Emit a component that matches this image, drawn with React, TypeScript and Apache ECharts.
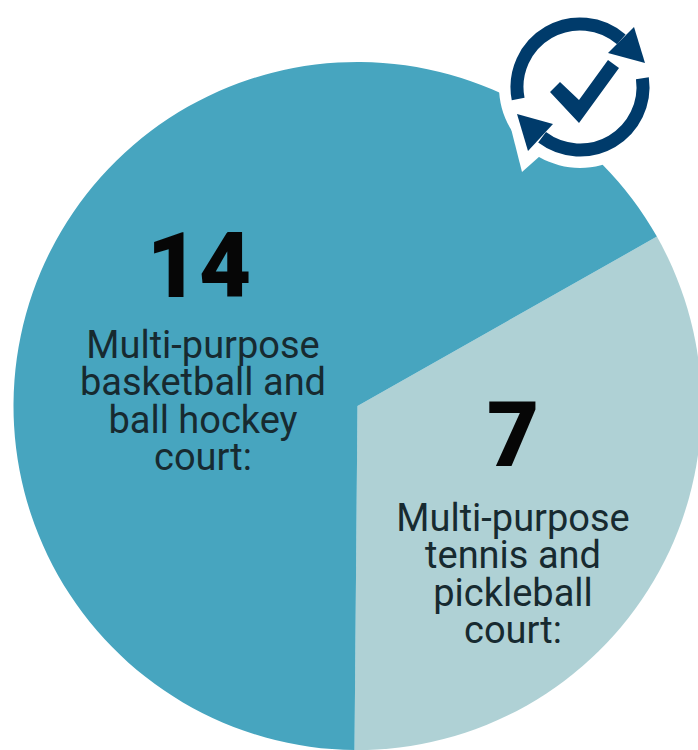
import React, { useEffect, useRef } from "react";
import * as echarts from "echarts";

const categories = [
  "Multi-purpose\ntennis and\npickleball\ncourt:",
  "Multi-purpose\nbasketball and\nball hockey\ncourt:",
];
const values = [7, 14];
const colors = ["#AFD1D5", "#47A5BF"];
const labelAnchors = [
  [513, 371],
  [203, 207],
];
const NAVY = "#003B6B";

export default function App() {
  const ref = useRef<HTMLDivElement>(null);
  useEffect(() => {
    document.body.style.margin = "0";
    const chart = echarts.init(ref.current!, null, { renderer: "svg" });
    const deg = (d: number) => (d * Math.PI) / 180;
    const num = {
      fontFamily: "Roboto",
      fontWeight: 900,
      fontSize: 90,
      color: "#060606",
      align: "center",
    };
    chart.setOption({
      animation: false,
      backgroundColor: "#ffffff",
      series: [
        {
          type: "pie",
          center: [357.5, 406],
          radius: [0, 344],
          startAngle: 29.5,
          clockwise: true,
          silent: true,
          data: categories.map((name, i) => ({
            name,
            value: values[i],
            itemStyle: { color: colors[i] },
          })),
          label: {
            show: true,
            position: "inside",
            formatter: (p: any) => {
              const lines = String(p.name).split("\n").map((l) => `{txt|${l}}`).join("\n");
              return `{${p.dataIndex === 0 ? "numA" : "numB"}|${p.value}}\n${lines}`;
            },
            align: "center",
            rich: {
              numA: { ...num, lineHeight: 128 },
              numB: { ...num, lineHeight: 119, padding: [0, 8, 0, 0] },
              txt: {
                fontFamily: "Roboto",
                fontWeight: 400,
                fontSize: 38,
                lineHeight: 37.4,
                color: "#172a30",
                align: "center",
              },
            },
          },
          labelLine: { show: false },
          labelLayout: (p: any) => ({
            x: labelAnchors[p.dataIndex][0],
            y: labelAnchors[p.dataIndex][1],
            align: "center",
            verticalAlign: "top",
          }),
        },
      ],
      graphic: [
        { type: "circle", z: 10, shape: { cx: 580, cy: 87, r: 81 }, style: { fill: "#ffffff" } },
        {
          type: "polygon",
          z: 10,
          shape: { points: [[500, 85], [522, 172], [540, 156], [585, 100]] },
          style: { fill: "#ffffff" },
        },
        {
          type: "arc",
          z: 11,
          shape: { cx: 580, cy: 87, r: 63, startAngle: deg(169), endAngle: deg(311), clockwise: true },
          style: { stroke: NAVY, lineWidth: 13, fill: "none" },
        },
        {
          type: "arc",
          z: 11,
          shape: { cx: 580, cy: 87, r: 63, startAngle: deg(-8), endAngle: deg(127), clockwise: true },
          style: { stroke: NAVY, lineWidth: 13, fill: "none" },
        },
        {
          type: "polygon",
          z: 11,
          shape: { points: [[634, 27], [645, 63], [608, 53]] },
          style: { fill: NAVY },
        },
        {
          type: "polygon",
          z: 11,
          shape: { points: [[517, 114], [553, 124], [528, 151]] },
          style: { fill: NAVY },
        },
        {
          type: "polygon",
          z: 11,
          shape: { points: [[550, 92], [560, 82], [579, 100], [608, 60], [619, 68], [579, 123]] },
          style: { fill: NAVY },
        },
      ],
    });
    return () => chart.dispose();
  }, []);
  return <div ref={ref} style={{ width: 698, height: 750 }} />;
}
